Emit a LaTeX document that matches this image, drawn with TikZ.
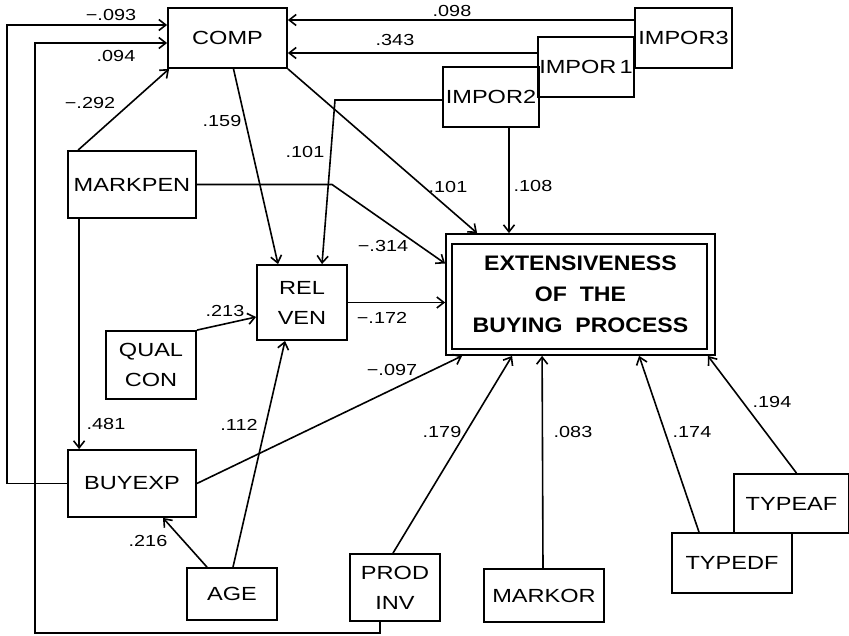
\documentclass[tikz,border=0pt]{standalone}
\usepackage{fontspec}
\setmainfont{Liberation Sans}[FakeStretch=1.24]
\newfontfamily\titlefont{Liberation Sans}[FakeStretch=1.1]
\usetikzlibrary{arrows.meta}

\begin{document}
\begin{tikzpicture}[x=1pt,y=-1pt, >={Straight Barb[length=7pt,width=11pt]},
  var/.style={draw,line width=1.8pt,inner sep=0pt,align=center,font=\fontsize{19}{30}\selectfont},
  coef/.style={inner sep=0pt,font=\fontsize{16}{18}\selectfont},
  lnk/.style={line width=1.6pt,->}]
\useasboundingbox (0,0) rectangle (849,636);
% --- variables ---
  \node[var,minimum width=119,minimum height=60] (comp) at (227.5,38) {COMP};
  \node[var,minimum width=97,minimum height=60] (impor3) at (683.5,38) {IMPOR3};
  \node[var,minimum width=96,minimum height=60] (impor1) at (586,67) {IMPOR\,1};
  \node[var,minimum width=96,minimum height=60] (impor2) at (491,97) {IMPOR2};
  \node[var,minimum width=128,minimum height=67] (markpen) at (132,184.5) {MARKPEN};
  \node[var,minimum width=90,minimum height=75] (relven) at (302,302.5) {REL\\VEN};
  \node[var,minimum width=90,minimum height=68] (qualcon) at (151,365) {QUAL\\CON};
  \node[var,minimum width=128,minimum height=67] (buyexp) at (132,483.5) {BUYEXP};
  \node[var,minimum width=90,minimum height=52] (age) at (232,594) {AGE};
  \node[var,minimum width=90,minimum height=67] (prodinv) at (395,587.5) {PROD\\INV};
  \node[var,minimum width=120,minimum height=53] (markor) at (544,595.5) {MARKOR};
  \node[var,minimum width=120,minimum height=60] (typedf) at (732,563) {TYPEDF};
  \node[var,minimum width=115,minimum height=59] (typeaf) at (791.5,503.5) {TYPEAF};
  \node[var,minimum width=269,minimum height=121,
        font=\titlefont\bfseries\fontsize{21}{31}\selectfont] (main) at (580.5,294.5)
        {EXTENSIVENESS\\OF~~THE\\BUYING~~PROCESS};
  \draw[line width=1.8pt] ([shift={(7,11)}]main.north west) rectangle ([shift={(-9,-7)}]main.south east);
% --- turning points ---
  \coordinate (c1) at (35,633);
  \coordinate (c2) at (7,483.5);
  \coordinate (c3) at (332,184.5);
  \coordinate (c4) at (335,100);
% --- paths ---
  \draw[lnk] ([xshift=-15]prodinv.south) |- (c1) |- ([yshift=-5]comp.west);
  \draw[lnk] (buyexp.west) -- (c2) |- ([yshift=13]comp.west);
  \draw[lnk] ([xshift=11]markpen.north west) -- ([xshift=2]comp.south west);
  \draw[lnk] ([xshift=12]markpen.south west) -- ([xshift=12]buyexp.north west);
  \draw[lnk] (markpen.east) -- (c3) -- ([yshift=31]main.west);
  \draw[lnk] ([xshift=6]comp.south) -- ([xshift=-24]relven.north);
  \draw[lnk] (comp.south east) -- ([xshift=32]main.north west);
  \draw[lnk] ([yshift=-3]impor2.west) -- (c4) -- ([xshift=20]relven.north);
  \draw[lnk] ([yshift=14]impor1.west) -- ([yshift=-15]comp.east);
  \draw[lnk] ([yshift=18]impor3.west) -- ([yshift=18]comp.east);
  \draw[lnk] ([xshift=18]impor2.south) -- ([xshift=-71.5]main.north);
  \draw[lnk] (qualcon.north east) -- ([yshift=-14.5]relven.west);
  \draw[lnk] (relven.east) -- (relven.east -| main.west);
  \draw[lnk] (buyexp.east) -- ([xshift=17]main.south west);
  \draw[lnk] ([xshift=1]age.north) -- ([xshift=-17]relven.south);
  \draw[lnk] ([xshift=-25]age.north) -- ([xshift=31]buyexp.south);
  \draw[lnk] ([xshift=-2]prodinv.north) -- ([xshift=67]main.south west);
  \draw[lnk] ([xshift=-1]markor.north) -- ([xshift=97]main.south west);
  \draw[lnk] ([xshift=-33]typedf.north) -- ([xshift=194]main.south west);
  \draw[lnk] ([xshift=5]typeaf.north) -- ([xshift=-8]main.south east);
% --- coefficients ---
  \node[coef] (k093) at (111,15) {−.093};
  \node[coef] (k094) at (116,56) {.094};
  \node[coef] (k292) at (90,103) {−.292};
  \node[coef] (k159) at (222,121) {.159};
  \node[coef] (k098) at (452,11) {.098};
  \node[coef] (k343) at (395,40) {.343};
  \node[coef] (k101a) at (305,152) {.101};
  \node[coef] (k101b) at (448,187) {.101};
  \node[coef] (k108) at (533,186) {.108};
  \node[coef] (k314) at (383,246) {−.314};
  \node[coef] (k213) at (225,311) {.213};
  \node[coef] (k172) at (382,318) {−.172};
  \node[coef] (k097) at (392,370) {−.097};
  \node[coef] (k481) at (106,424) {.481};
  \node[coef] (k112) at (239,425) {.112};
  \node[coef] (k216) at (148,541) {.216};
  \node[coef] (k179) at (442,432) {.179};
  \node[coef] (k083) at (573,432) {.083};
  \node[coef] (k174) at (692,432) {.174};
  \node[coef] (k194) at (772,402) {.194};
\end{tikzpicture}
\end{document}
